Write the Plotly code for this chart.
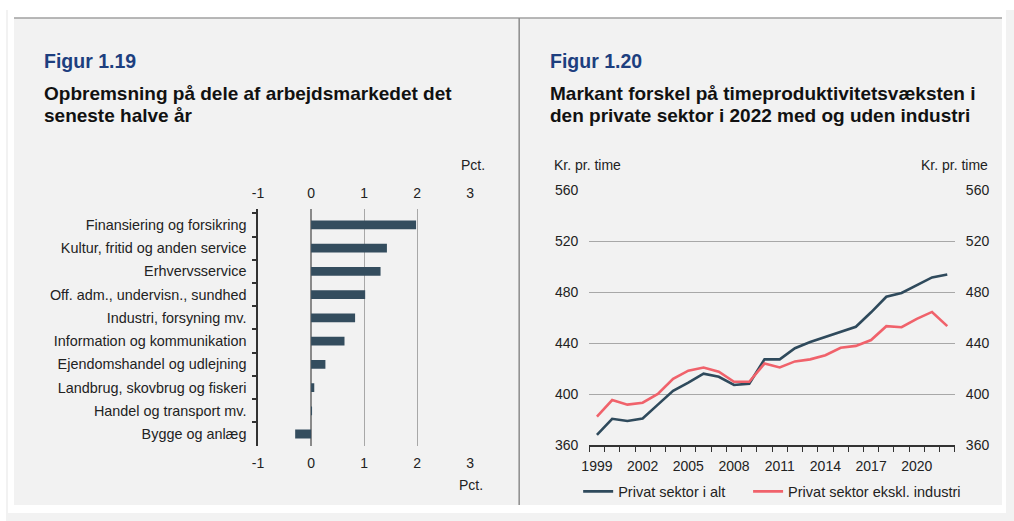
import plotly.graph_objects as go

# the page keeps the browser's 8px body margin, so the figure is 16px smaller
# than the window and everything is placed in window pixels minus that margin
WIN_W, WIN_H = 1014, 521
OFF = 8
W, H = WIN_W - 2 * OFF, WIN_H - 2 * OFF

# Figur 1.19 - data
sectors = [
    "Finansiering og forsikring",
    "Kultur, fritid og anden service",
    "Erhvervsservice",
    "Off. adm., undervisn., sundhed",
    "Industri, forsyning mv.",
    "Information og kommunikation",
    "Ejendomshandel og udlejning",
    "Landbrug, skovbrug og fiskeri",
    "Handel og transport mv.",
    "Bygge og anlæg",
]
growth_pct = [1.98, 1.43, 1.31, 1.02, 0.83, 0.63, 0.27, 0.06, 0.01, -0.30]
pct_ticks = [-1, 0, 1, 2, 3]
pct_labels = ["-1", "0", "1", "2", "3"]

# Figur 1.20 - data
years = list(range(1999, 2023))
privat_i_alt = [368, 380.6, 378.8, 380.8, 391.7, 402.6, 409, 416.1, 413.6, 407.2, 408.2, 427.3,
                427.3, 436.1, 441, 445, 448.8, 452.9, 464.3, 476.5, 479.5, 485.9, 491.7, 494]
privat_ex_industri = [382.3, 395.3, 391.7, 393.2, 400.1, 412, 418.4, 420.9, 417.6, 409.7, 409.7, 424,
                      420.9, 425.7, 427.3, 430.6, 436.4, 437.9, 442.5, 453.4, 452.6, 459.2, 464.6, 453.4]
year_ticks = [1999, 2002, 2005, 2008, 2011, 2014, 2017, 2020]

DARK = "#2f4a5c"
RED = "#f0626b"
BLUE = "#1d3f7f"
GRID = "#a8a8a8"
PANEL = "#f2f2f2"
FONT = "Arial, Liberation Sans, sans-serif"


# window pixels -> paper fractions
def px(x):
    return (x - OFF) / W


def py(y):
    return 1 - (y - OFF) / H


fig = go.Figure()

fig.add_trace(go.Bar(
    x=growth_pct, y=sectors, orientation="h", width=0.38,
    marker=dict(color="#344d5e", line=dict(width=0)),
    xaxis="x", yaxis="y", showlegend=False,
))
# invisible helper so the top axis gets drawn
fig.add_trace(go.Scatter(x=[None], y=[sectors[0]], xaxis="x3", yaxis="y",
                         showlegend=False, hoverinfo="skip"))

fig.add_trace(go.Scatter(
    x=years, y=privat_i_alt, mode="lines", name="Privat sektor i alt",
    line=dict(color=DARK, width=2.6), xaxis="x2", yaxis="y2", legend="legend",
))
fig.add_trace(go.Scatter(
    x=years, y=privat_ex_industri, mode="lines", name="Privat sektor ekskl. industri",
    line=dict(color=RED, width=2.6), xaxis="x2", yaxis="y2", legend="legend2",
))
fig.add_trace(go.Scatter(x=[None], y=[None], xaxis="x2", yaxis="y4",
                         showlegend=False, hoverinfo="skip"))

tick_font = dict(family=FONT, size=14, color="#222")
legend_font = dict(family=FONT, size=14.5, color="#222")

fig.update_layout(
    width=W, height=H, autosize=False,
    margin=dict(l=0, r=0, t=0, b=0),
    paper_bgcolor="white",
    plot_bgcolor="rgba(0,0,0,0)",
    font=dict(family=FONT, size=14, color="#222"),
    showlegend=True,
    legend=dict(orientation="h", x=px(577), y=py(499), xanchor="left", yanchor="middle",
                bgcolor="rgba(0,0,0,0)", font=legend_font),
    legend2=dict(orientation="h", x=px(749), y=py(499), xanchor="left", yanchor="middle",
                 bgcolor="rgba(0,0,0,0)", font=legend_font),
    # left chart
    xaxis=dict(
        domain=[px(253), px(467.7)], anchor="y", range=[-1, 3],
        tickvals=pct_ticks, ticktext=pct_labels,
        showgrid=True, gridcolor=GRID, gridwidth=1.2,
        zeroline=True, zerolinecolor="#8a8a8a", zerolinewidth=1.5,
        showline=False, ticks="", ticklabelstandoff=7, tickfont=tick_font, fixedrange=True,
    ),
    xaxis3=dict(
        overlaying="x", side="top", anchor="y", range=[-1, 3],
        tickvals=pct_ticks, ticktext=pct_labels,
        showgrid=False, zeroline=False, showline=False, ticks="",
        ticklabelstandoff=8, tickfont=tick_font, fixedrange=True,
    ),
    yaxis=dict(
        domain=[py(451.7), py(207.7)], anchor="x", type="category",
        categoryorder="array", categoryarray=sectors, autorange="reversed",
        showline=True, linecolor="#333", linewidth=1.5,
        ticks="outside", tickson="boundaries", ticklen=4, tickcolor="#333", tickwidth=1.5,
        ticklabelstandoff=7, tickfont=dict(family=FONT, size=14.4, color="#222"),
        showgrid=False, fixedrange=True,
    ),
    # right chart
    xaxis2=dict(
        domain=[px(588.3), px(958.3)], anchor="y2", range=[1998.5, 2022.5],
        tickvals=year_ticks, ticks="", showgrid=False, zeroline=False,
        showline=True, linecolor="#333", linewidth=1.5,
        minor=dict(tick0=1998.5, dtick=1, ticks="outside", ticklen=5, tickcolor="#333",
                   tickwidth=1.2, showgrid=False),
        ticklabelstandoff=7, tickfont=tick_font, fixedrange=True,
    ),
    yaxis2=dict(
        domain=[py(451), py(188.3)], anchor="x2", range=[360, 560], dtick=40,
        showgrid=True, gridcolor=GRID, gridwidth=1.2, zeroline=False,
        showline=False, ticks="", ticklabelstandoff=10, tickfont=tick_font, fixedrange=True,
    ),
    yaxis4=dict(
        overlaying="y2", side="right", anchor="x2", range=[360, 560], dtick=40,
        showgrid=False, zeroline=False, showline=False, ticks="",
        ticklabelstandoff=10, tickfont=tick_font, fixedrange=True,
    ),
)

# panel backgrounds and frame lines
fig.add_shape(type="rect", xref="paper", yref="paper", x0=px(6), x1=1, y0=0, y1=py(10),
              fillcolor=PANEL, line=dict(width=0), layer="below")
fig.add_shape(type="line", xref="paper", yref="paper", x0=px(6), x1=1, y0=py(10), y1=py(10),
              line=dict(color="#a0a0a0", width=1.5))
fig.add_shape(type="line", xref="paper", yref="paper", x0=px(517.3), x1=px(517.3), y0=0, y1=py(10),
              line=dict(color="#8c8c8c", width=1.5))


def note(text, x, y, size=14, color="#222", bold=False, xanchor="left"):
    if bold:
        text = "<b>" + text + "</b>"
    fig.add_annotation(text=text, xref="paper", yref="paper", x=px(x), y=py(y),
                       xanchor=xanchor, yanchor="middle", showarrow=False,
                       font=dict(family=FONT, size=size, color=color))


# titles
note("Figur 1.19", 34, 54, size=19.5, color=BLUE, bold=True)
note("Opbremsning på dele af arbejdsmarkedet det", 34, 88, size=19, color="#111", bold=True)
note("seneste halve år", 34, 110.5, size=19, color="#111", bold=True)
note("Figur 1.20", 546, 54, size=19.5, color=BLUE, bold=True)
note("Markant forskel på timeproduktivitetsvæksten i", 546, 88, size=19, color="#111", bold=True)
note("den private sektor i 2022 med og uden industri", 546, 110.5, size=19, color="#111", bold=True)

# unit labels
note("Pct.", 470.7, 162, xanchor="center")
note("Pct.", 469, 492.7, xanchor="center")
note("Kr. pr. time", 551, 162)
note("Kr. pr. time", 994, 162, xanchor="right")

# colour the body margin like the panels: white strip on top and left, grey elsewhere
fill_margin = (
    "var s=document.body.style;"
    "s.backgroundColor='" + PANEL + "';"
    "s.backgroundImage='linear-gradient(to bottom, #ffffff 10px, rgba(255,255,255,0) 10px),"
    " linear-gradient(to right, #ffffff 6px, rgba(255,255,255,0) 6px)';"
    "s.backgroundRepeat='no-repeat';"
)
fig.write_html("out.html", config={"displayModeBar": False}, post_script=fill_margin)
